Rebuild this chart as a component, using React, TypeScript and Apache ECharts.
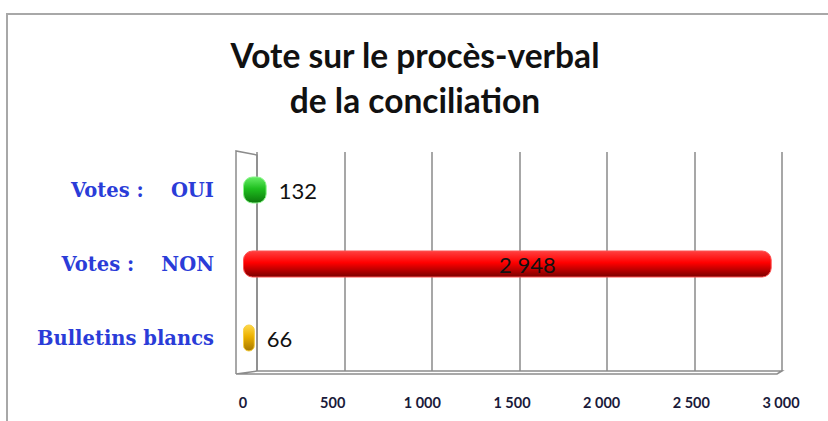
import React, { useEffect, useRef } from "react";
import * as echarts from "echarts";

const categories = ["Bulletins blancs", "Votes :    NON", "Votes :    OUI"];
const values = [66, 2948, 132];
const barColors = [
  ["#ffd84a", "#ebb000", "#a67800", "#f7cf40"],
  ["#ff4040", "#ff0000", "#7a0000", "#ff5050"],
  ["#66ee66", "#1fbf1f", "#0c780c", "#8af58a"],
];
const xTicks = [0, 500, 1000, 1500, 2000, 2500, 3000];

const fmt = (v: number) => {
  const s = String(Math.round(v));
  return s.replace(/\B(?=(\d{3})+(?!\d))/g, " ");
};

export default function App() {
  const ref = useRef<HTMLDivElement>(null);
  useEffect(() => {
    if (!ref.current) return;
    const chart = echarts.init(ref.current, null, { renderer: "svg" });
    const wallStroke = { stroke: "#8c8c8c", lineWidth: 1.5, fill: "none" };
    chart.setOption({
      animation: false,
      backgroundColor: "#ffffff",
      title: {
        text: "Vote sur le procès-verbal\nde la conciliation",
        left: 410,
        textAlign: "center",
        top: 27,
        textStyle: {
          fontFamily: "Lato",
          fontWeight: "bold",
          fontSize: 33.5,
          lineHeight: 45,
          color: "#111111",
        },
      },
      graphic: [
        {
          type: "rect",
          shape: { x: 7, y: 14, width: 840, height: 430 },
          style: { fill: "none", stroke: "#a8a8a8", lineWidth: 2 },
          silent: true,
        },
        {
          type: "polyline",
          shape: { points: [[236, 374], [236, 151], [257, 155], [257, 371]] },
          style: wallStroke,
          silent: true,
        },
        {
          type: "polyline",
          shape: { points: [[236, 374], [257, 371], [782, 371], [777, 374], [236, 374]] },
          style: wallStroke,
          silent: true,
        },
      ],
      grid: [
        { left: 257, right: 46, top: 152, bottom: 50 },
        { left: 243, right: 47, top: 153, bottom: 46 },
      ],
      xAxis: [
        {
          type: "value",
          gridIndex: 0,
          min: 0,
          max: 3000,
          interval: 500,
          axisLine: { show: false },
          axisTick: { show: false },
          axisLabel: { show: false },
          splitLine: { show: true, lineStyle: { color: "#8a8a8a", width: 1.5 } },
        },
        {
          type: "value",
          gridIndex: 1,
          min: 0,
          max: 3000,
          interval: 500,
          axisLine: { show: false },
          axisTick: { show: false },
          splitLine: { show: false },
          axisLabel: {
            margin: 20,
            fontFamily: "Lato",
            fontWeight: "bold",
            fontSize: 14.5,
            color: "#1a1a3a",
            formatter: (v: number) => (xTicks.includes(v) ? fmt(v) : ""),
          },
        },
      ],
      yAxis: [
        {
          type: "category",
          gridIndex: 0,
          data: categories,
          axisLine: { show: false },
          axisTick: { show: false },
          axisLabel: { show: false },
        },
        {
          type: "category",
          gridIndex: 1,
          data: categories,
          axisLine: { show: false },
          axisTick: { show: false },
          axisLabel: {
            margin: 29,
            fontFamily: "DejaVu Serif",
            fontWeight: "bold",
            fontSize: 19.5,
            color: "#2a3cd8",
          },
        },
      ],
      series: [
        {
          type: "bar",
          xAxisIndex: 1,
          yAxisIndex: 1,
          barWidth: 27,
          data: values.map((v, i) => ({
            value: v,
            itemStyle: {
              borderRadius: 9,
              borderColor: barColors[i][3],
              borderWidth: 1,
              color: new echarts.graphic.LinearGradient(0, 0, 0, 1, [
                { offset: 0, color: barColors[i][0] },
                { offset: 0.45, color: barColors[i][1] },
                { offset: 1, color: barColors[i][2] },
              ]),
            },
            label: {
              show: true,
              position: v > 1000 ? "inside" : "right",
              offset: v > 1000 ? [20, 0] : [0, 0],
              distance: 12,
              formatter: (p: any) => fmt(p.value),
              fontFamily: "Lato",
              fontSize: 22,
              color: "#111111",
            },
          })),
        },
      ],
    });
    return () => chart.dispose();
  }, []);
  return (
    <div
      ref={ref}
      style={{ position: "fixed", left: 0, top: 0, width: 828, height: 421 }}
    />
  );
}
